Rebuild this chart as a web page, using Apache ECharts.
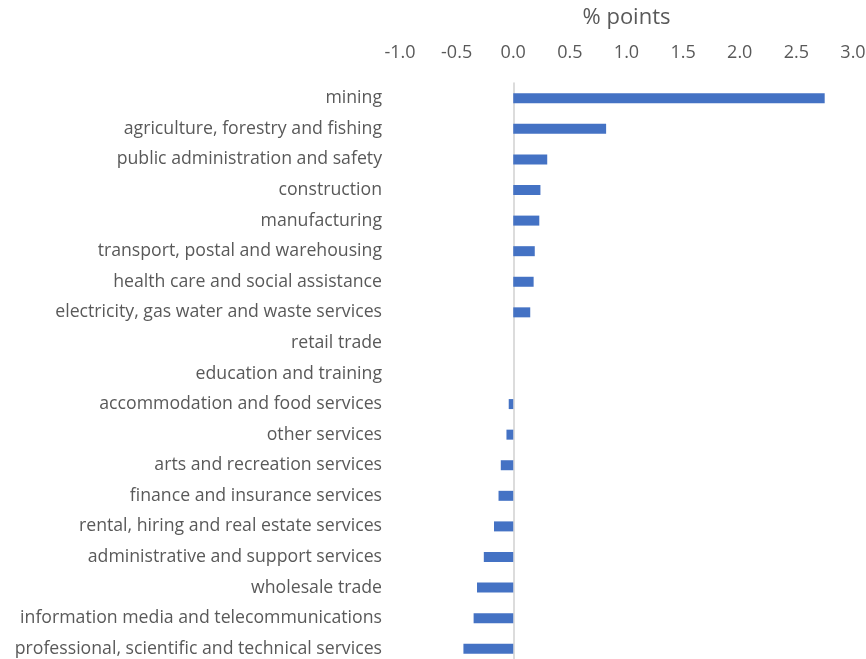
<!DOCTYPE html>
<html>
<head>
<meta charset="utf-8">
<style>
  html, body { margin: 0; padding: 0; background: #ffffff; }
  #chart { width: 866px; height: 659px; }
</style>
<script src="https://cdn.jsdelivr.net/npm/echarts@6/dist/echarts.min.js"></script>
</head>
<body>
<div id="chart"></div>
<script>
// Industries, top to bottom
const industries = [
  'mining',
  'agriculture, forestry and fishing',
  'public administration and safety',
  'construction',
  'manufacturing',
  'transport, postal and warehousing',
  'health care and social assistance',
  'electricity, gas water and waste services',
  'retail trade',
  'education and training',
  'accommodation and food services',
  'other services',
  'arts and recreation services',
  'finance and insurance services',
  'rental, hiring and real estate services',
  'administrative and support services',
  'wholesale trade',
  'information media and telecommunications',
  'professional, scientific and technical services'
];

// Contribution, % points
const contribution = [
  2.75, 0.82, 0.30, 0.24, 0.23, 0.19, 0.18, 0.15, 0.0, 0.0,
  -0.04, -0.06, -0.11, -0.13, -0.17, -0.26, -0.32, -0.35, -0.44
];

// Value axis range
const axisMin = -1.0;
const axisMax = 3.0;
const axisStep = 0.5;

const textColor = '#595959';
const fontFamily = '"Open Sans", "Noto Sans", sans-serif';

const chart = echarts.init(document.getElementById('chart'));
chart.setOption({
  animation: false,
  textStyle: { fontFamily: fontFamily },
  grid: {
    left: 400, right: 13, top: 83, bottom: -5,
    containLabel: false,
    outerBoundsMode: 'none'
  },
  xAxis: {
    type: 'value',
    position: 'top',
    min: axisMin,
    max: axisMax,
    interval: axisStep,
    name: '% points',
    nameLocation: 'middle',
    nameGap: 54,
    nameTextStyle: { color: textColor, fontSize: 22, fontFamily: fontFamily },
    axisLine: { show: false },
    axisTick: { show: false },
    splitLine: { show: false },
    axisLabel: {
      color: textColor,
      fontSize: 18,
      fontFamily: fontFamily,
      margin: 21,
      formatter: v => v.toFixed(1)
    }
  },
  yAxis: {
    type: 'category',
    data: industries,
    inverse: true,
    axisLine: { show: true, onZero: true, lineStyle: { color: '#d0d0d0', width: 1.5 } },
    axisTick: { show: false },
    axisLabel: {
      color: textColor,
      fontSize: 17.7,
      fontFamily: fontFamily,
      margin: 18
    }
  },
  series: [{
    type: 'bar',
    data: contribution,
    barWidth: 10,
    itemStyle: { color: '#4472C4' }
  }]
});
</script>
</body>
</html>
